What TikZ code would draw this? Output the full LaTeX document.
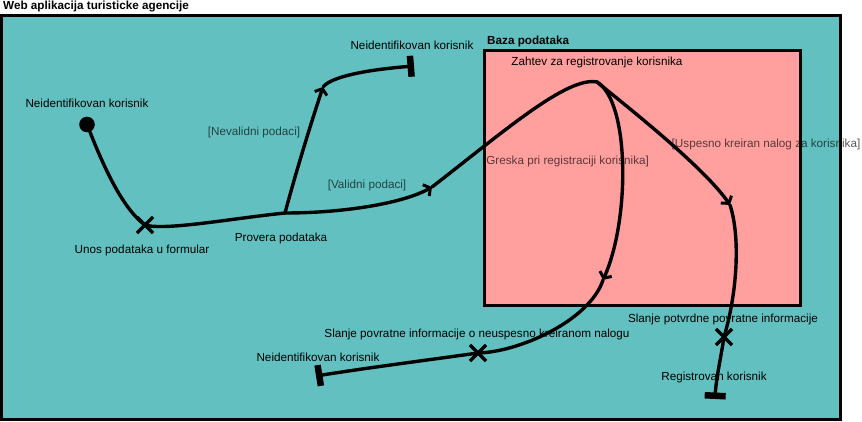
\documentclass[tikz,border=0pt]{standalone}
\usepackage{fontspec}
\setmainfont{Liberation Sans}
\usetikzlibrary{arrows.meta,shapes.misc}
\definecolor{tealbg}{HTML}{62C1C0}
\definecolor{pinkbg}{HTML}{FFA09F}
\begin{document}
\begin{tikzpicture}[x=1pt,y=-1pt,
  lbl/.style={font=\fontsize{11.7}{14}\selectfont, inner sep=0pt, anchor=base},
  glbl/.style={lbl, text=black, text opacity=0.65},
  ttl/.style={font=\fontsize{11.7}{14}\selectfont\bfseries, inner sep=0pt, anchor=base west},
  frame/.style={draw=black, line width=3pt},
  flow/.style={draw=black, line width=3.4pt, line cap=round, line join=round},
  chev/.style={-{Straight Barb[length=5pt,width=13pt,line width=3pt]}},
  endbar/.style={-{Bar[width=21pt,line width=6.5pt]}},
  xnode/.style={draw=black, cross out, line width=3.2pt, minimum size=13pt, inner sep=0pt},
  startdot/.style={circle, fill=black, minimum size=15.6pt, inner sep=0pt},
]
\useasboundingbox (0,0) rectangle (862,422);
% frames corners
\coordinate (O1) at (1.5,15.5);
\coordinate (O2) at (840,419.5);
\coordinate (B1) at (484,50.5);
\coordinate (B2) at (800,305.5);
\fill[tealbg] (O1) rectangle (O2);
\fill[pinkbg] (B1) rectangle (B2);

% labels
\node[ttl] (title) at (3,10) {Web aplikacija turisticke agencije};
\node[ttl] (baza) at (487,45) {Baza podataka};
\node[lbl] (nk1) at (87,108) {Neidentifikovan korisnik};
\node[lbl] (unos) at (142,254) {Unos podataka u formular};
\node[lbl] (provera) at (281,241) {Provera podataka};
\node[glbl] (nevalidni) at (254,136) {[Nevalidni podaci]};
\node[lbl] (nk2) at (412,50) {Neidentifikovan korisnik};
\node[glbl] (validni) at (367,189) {[Validni podaci]};
\node[lbl] (zahtev) at (597,66) {Zahtev za registrovanje korisnika};
\node[glbl] (uspesno) at (766,148) {[Uspesno kreiran nalog za korisnika]};
\node[glbl] (greska) at (566,165) {[Greska pri registraciji korisnika]};
\node[lbl] (slanje1) at (477,337) {Slanje povratne informacije o neuspesno kreiranom nalogu};
\node[lbl] (nk3) at (318,361) {Neidentifikovan korisnik};
\node[lbl] (slanje2) at (723,322) {Slanje potvrdne povratne informacije};
\node[lbl] (regis) at (714,380) {Registrovan korisnik};

% frame borders
\draw[frame] (O1) rectangle (O2);
\draw[frame] (B1) rectangle (B2);

% path points
\coordinate (J) at (285,213);
\coordinate (A1) at (323,87);
\coordinate (E1) at (414,66);
\coordinate (A2) at (432,187);
\coordinate (P) at (597,82);
\coordinate (A3) at (603,280);
\coordinate (E2) at (316,376);
\coordinate (A4) at (730,205);
\coordinate (E3) at (715,399);

\node[startdot] (start) at (87,124.5) {};
\node[xnode] (U) at (145,225) {};
\node[xnode] (X2) at (478,353) {};
\node[xnode] (X3) at (724,337) {};

% flows
\draw[flow] (start) .. controls +(12,30) and +(-25,-18) .. (U.center);
\draw[flow] (U.center) .. controls +(20,6) and +(-50,5) .. (J);
\draw[flow,chev] (J) .. controls +(12,-45) and +(-10,30) .. (A1);
\draw[flow,endbar] (A1) .. controls +(8,-10) and +(-50,4) .. (E1);
\draw[flow,chev] (J) .. controls +(60,0) and +(-28,16) .. (A2);
\draw[flow] (A2) .. controls +(70,-54) and +(-30,-6) .. (P);
\draw[flow,chev] (P) .. controls +(33,20) and +(27,-60) .. (A3);
\draw[flow] (A3) .. controls +(-13,40) and +(42,-1) .. (X2.center);
\draw[flow,endbar] (X2.center) .. controls +(-50,7) and +(50,-8) .. (E2);
\draw[flow,chev] (P) .. controls +(28,23) and +(-26,-38) .. (A4);
\draw[flow] (A4) .. controls +(10,30) and +(14,-47) .. (X3.center);
\draw[flow,endbar] (X3.center) .. controls +(-3,20) and +(1,-20) .. (E3);
\end{tikzpicture}
\end{document}
